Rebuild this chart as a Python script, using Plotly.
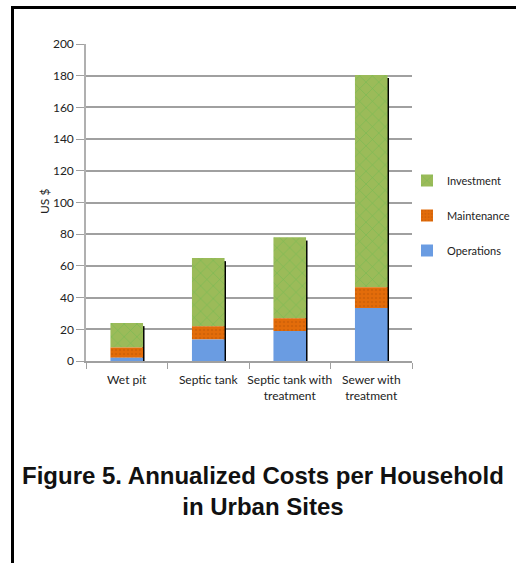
import plotly.graph_objects as go

categories = ["Wet pit", "Septic tank", "Septic tank with<br>treatment", "Sewer with<br>treatment"]
operations = [2, 13.5, 19, 33.5]
maintenance = [6.5, 8.5, 8, 13]
investment = [15.5, 43, 51, 134]

W, H = 516, 563
L, R, T, B = 86, 104, 44, 202
pw, ph = W - L - R, H - T - B

def px_x(p):
    return (p - L) / pw

def px_y(p):
    return (H - B - p) / ph

narrow = "Lato, Roboto, sans-serif"
txt = "#222222"

totals = [o + m + i for o, m, i in zip(operations, maintenance, investment)]
base_m = operations
base_i = [o + m for o, m in zip(operations, maintenance)]

fig = go.Figure()
# drop shadow behind each column
fig.add_trace(go.Bar(x=categories, y=[t - 2 for t in totals], base=0, width=0.028, offset=0.19,
                     marker=dict(color="black", line=dict(width=0)), showlegend=False, hoverinfo="skip"))
fig.add_trace(go.Bar(x=categories, y=investment, base=base_i, width=0.4, offset=-0.2, name="Investment",
                     legendgroup="i",
                     marker=dict(color="#9BBB59", line=dict(width=0),
                                 pattern=dict(shape="x", fgcolor="#4DB848", size=9, solidity=0.12))))
fig.add_trace(go.Bar(x=categories, y=maintenance, base=base_m, width=0.4, offset=-0.2, name="Maintenance",
                     legendgroup="m",
                     marker=dict(color="#E36C0A", line=dict(width=0),
                                 pattern=dict(shape=".", fgcolor="#C05A08", size=4, solidity=0.3))))
fig.add_trace(go.Bar(x=categories, y=operations, base=0, width=0.4, offset=-0.2, name="Operations",
                     legendgroup="o", marker=dict(color="#6A9CE2", line=dict(width=0))))

fig.update_layout(
    width=W, height=H,
    margin=dict(l=L, r=R, t=T, b=B, autoexpand=False),
    barmode="overlay",
    paper_bgcolor="white", plot_bgcolor="white",
    font=dict(family=narrow, size=12, color=txt),
    showlegend=True,
    legend=dict(x=px_x(407), y=px_y(166), xanchor="left", yanchor="top",
                traceorder="grouped", tracegroupgap=16,
                font=dict(family=narrow, size=11, color=txt),
                itemwidth=30, bgcolor="rgba(0,0,0,0)"),
    xaxis=dict(type="category", showline=True, linecolor="#A0A0A0", linewidth=1.5,
               ticks="outside", tickson="boundaries", ticklen=6, tickcolor="#A0A0A0",
               tickangle=0, ticklabelstandoff=7,
               tickfont=dict(family=narrow, size=12, color=txt),
               showgrid=False, range=[-0.5, 3.5], fixedrange=True),
    yaxis=dict(range=[0, 200], dtick=20, showline=True, linecolor="#B0B0B0", linewidth=1.5,
               ticks="outside", ticklen=8, tickcolor="#A0A0A0",
               showgrid=True, gridcolor="#A0A0A0", gridwidth=1.5,
               tickfont=dict(family=narrow, size=12, color=txt),
               zeroline=False, fixedrange=True),
    shapes=[
        dict(type="line", xref="paper", yref="paper", x0=px_x(12.5), x1=px_x(520), y0=px_y(7.5), y1=px_y(7.5),
             line=dict(color="black", width=3)),
        dict(type="line", xref="paper", yref="paper", x0=px_x(12.5), x1=px_x(12.5), y0=px_y(6), y1=px_y(570),
             line=dict(color="black", width=3)),
    ],
    annotations=[
        dict(text="US $", textangle=-90, xref="paper", yref="paper", x=px_x(44), y=px_y(202),
             xanchor="center", yanchor="middle", showarrow=False,
             font=dict(family=narrow, size=12, color=txt)),
        dict(text="<b>Figure 5. Annualized Costs per Household<br>in Urban Sites</b>",
             xref="paper", yref="paper", x=px_x(263), y=px_y(491), xanchor="center", yanchor="middle",
             showarrow=False, align="center",
             font=dict(family="Liberation Sans, Arial, sans-serif", size=24, color="#111111")),
    ],
)

fig.write_html("out.html", config={"displayModeBar": False},
               post_script="document.body.style.margin='0';document.body.style.overflow='hidden';")
